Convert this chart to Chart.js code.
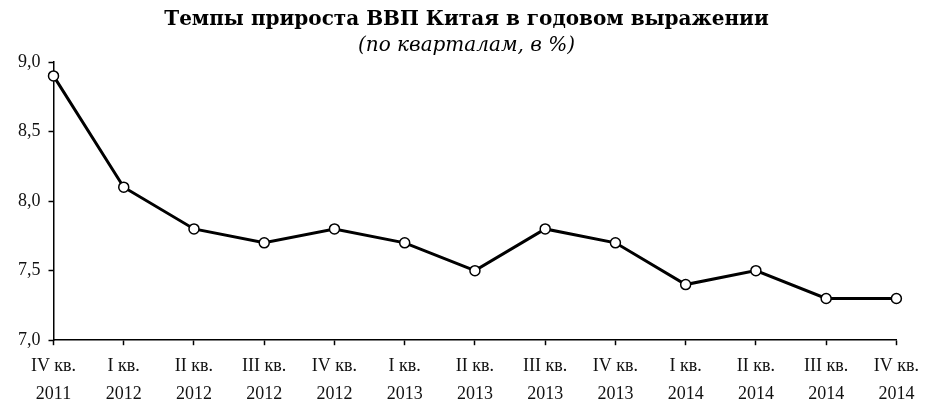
<!DOCTYPE html>
<html>
<head>
<meta charset="utf-8">
<script src="https://cdn.jsdelivr.net/npm/chart.js@4"></script>
<style>
  html, body { margin: 0; padding: 0; background: #fff; }
  #wrap { width: 926px; height: 402px; }
</style>
</head>
<body>
<div id="wrap"><canvas id="gdpChart"></canvas></div>
<script>
// кварталы и годы
const quarters = ['IV кв.', 'I кв.', 'II кв.', 'III кв.', 'IV кв.', 'I кв.', 'II кв.', 'III кв.', 'IV кв.', 'I кв.', 'II кв.', 'III кв.', 'IV кв.'];
const years = ['2011', '2012', '2012', '2012', '2012', '2013', '2013', '2013', '2013', '2014', '2014', '2014', '2014'];
// темпы прироста ВВП, %
const gdpGrowth = [8.9, 8.1, 7.8, 7.7, 7.8, 7.7, 7.5, 7.8, 7.7, 7.4, 7.5, 7.3, 7.3];
const yTicks = [7.0, 7.5, 8.0, 8.5, 9.0];

const labels = quarters.map((q, i) => [q, years[i]]);
const serif = "'Liberation Serif', 'DejaVu Serif', serif";
const wideSerif = "'DejaVu Serif', serif";

const ctx = document.getElementById('gdpChart');
new Chart(ctx, {
  type: 'line',
  data: {
    labels: labels,
    datasets: [{
      data: gdpGrowth,
      borderColor: '#000',
      borderWidth: 3,
      pointRadius: 5,
      pointBorderWidth: 1.5,
      pointBackgroundColor: '#fff',
      pointBorderColor: '#000',
      tension: 0
    }]
  },
  options: {
    responsive: true,
    maintainAspectRatio: false,
    animation: false,
    layout: { padding: { left: 10, right: 3, top: 2, bottom: -13 } },
    plugins: {
      legend: { display: false },
      tooltip: { enabled: false },
      title: {
        display: true,
        text: 'Темпы прироста ВВП Китая в годовом выражении',
        color: '#000',
        font: { family: wideSerif, size: 20, weight: 'bold' },
        padding: { top: 6, bottom: 2 }
      },
      subtitle: {
        display: true,
        text: '(по кварталам, в %)',
        color: '#000',
        font: { family: wideSerif, size: 20, style: 'italic' },
        padding: { top: 0, bottom: 4 }
      }
    },
    scales: {
      x: {
        offset: false,
        grid: { display: true, drawOnChartArea: false, drawTicks: true, tickLength: 5, tickColor: '#000', tickWidth: 1.5 },
        border: { color: '#000', width: 1.5 },
        ticks: {
          color: '#111',
          font: { family: serif, size: 18, lineHeight: 1.55 },
          maxRotation: 0,
          autoSkip: false,
          padding: 7
        }
      },
      y: {
        min: 7.0,
        max: 9.0,
        afterBuildTicks: (axis) => { axis.ticks = yTicks.map(v => ({ value: v })); },
        grid: { display: true, drawOnChartArea: false, drawTicks: true, tickLength: 5, tickColor: '#000', tickWidth: 1.5 },
        border: { color: '#000', width: 1.5 },
        ticks: {
          color: '#111',
          font: { family: serif, size: 18 },
          padding: 8,
          callback: (v) => Number(v).toFixed(1).replace('.', ',')
        }
      }
    }
  }
});
</script>
</body>
</html>
